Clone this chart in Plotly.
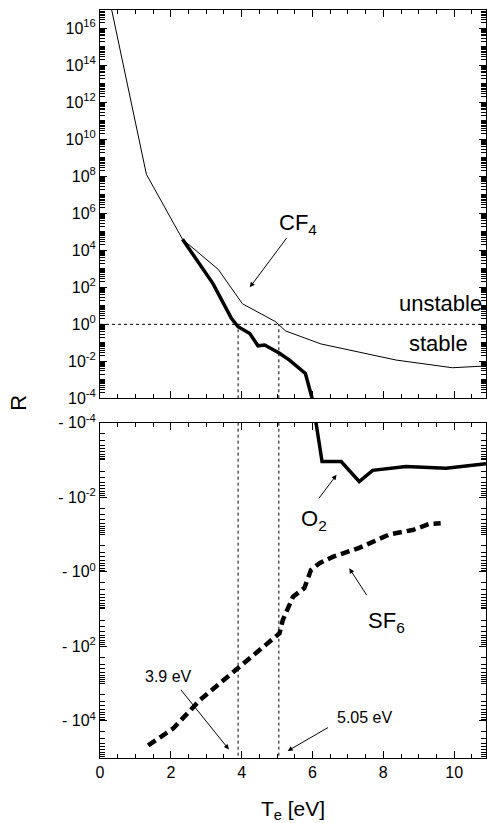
import plotly.graph_objects as go

# ---------------- data ----------------
# CF4 (thin solid line), R > 0
cf4_T = [0.33, 1.31, 2.33, 3.34, 4.02, 4.96, 5.24, 6.24, 8.36, 9.95, 10.9]
cf4_R = [1e17, 1.3e8, 4.0e4, 9.3e2, 1.3e1, 1.38, 0.44, 0.087, 0.0117, 0.0045, 0.0056]

# O2 (thick solid line), R changes sign near 6 eV
o2_T = [2.33, 2.82, 3.19, 3.71, 3.90, 4.23, 4.46, 4.65, 5.07, 5.35, 5.80, 5.99,
        6.10, 6.27, 6.81, 7.32, 7.70, 8.64, 9.77, 10.9]
o2_R = [4.0e4, 1.6e3, 1.6e2, 2.1, 0.74, 0.32, 0.069, 0.076, 0.027, 0.0117, 0.0022, 1e-4,
        -1e-4, -1.1e-3, -1.1e-3, -3.8e-3, -1.9e-3, -1.5e-3, -1.66e-3, -1.26e-3]

# SF6 (thick dashed line), R < 0
sf6_T = [1.36, 2.07, 2.82, 3.90, 5.07, 5.16, 5.45, 5.77, 5.96, 6.20, 6.57, 7.32, 8.17, 8.83, 9.30, 9.62]
sf6_R = [-4.6e4, -1.6e4, -2.8e3, -400, -45, -20, -4.7, -2.75, -0.89, -0.59, -0.4, -0.23,
         -0.1, -0.076, -0.052, -0.05]

# stability thresholds (eV) and boundary R
thresholds = [3.9, 5.05]
threshold_labels = ["3.9 eV", "5.05 eV"]
R_boundary = 1.0

# tick labels
top_exps = list(range(-4, 17, 2))
top_ticktext = ["10<sup>%d</sup>" % e for e in top_exps]
bot_exps = list(range(-4, 5, 2))
bot_ticktext = ["- 10<sup>%d</sup>" % e for e in bot_exps]
x_tickvals = [0, 2, 4, 6, 8, 10]
x_ticktext = ["0", "2", "4", "6", "8", "10"]

# ---------------- split by sign ----------------
def pos_part(T, R):
    return [t for t, r in zip(T, R) if r > 0], [r for r in R if r > 0]

def neg_part(T, R):
    return [t for t, r in zip(T, R) if r < 0], [-r for r in R if r < 0]

FONT = "Liberation Sans, Arial, sans-serif"
X_MAX = 10.9
fig = go.Figure()

cx, cy = pos_part(cf4_T, cf4_R)
fig.add_trace(go.Scatter(x=cx, y=cy, xaxis="x2", yaxis="y2", mode="lines",
                         line=dict(color="black", width=1), showlegend=False))
ox, oy = pos_part(o2_T, o2_R)
fig.add_trace(go.Scatter(x=ox, y=oy, xaxis="x2", yaxis="y2", mode="lines",
                         line=dict(color="black", width=3.5), showlegend=False))
onx, ony = neg_part(o2_T, o2_R)
fig.add_trace(go.Scatter(x=onx, y=ony, xaxis="x", yaxis="y", mode="lines",
                         line=dict(color="black", width=3.5), showlegend=False))
sx, sy = neg_part(sf6_T, sf6_R)
fig.add_trace(go.Scatter(x=sx, y=sy, xaxis="x", yaxis="y", mode="lines",
                         line=dict(color="black", width=4.5, dash="9px,5px"), showlegend=False))

# minor ticks: odd decades and 2..9 subdivisions
def minor_vals(lo, hi, labelled):
    v = []
    for e in range(lo, hi):
        for m in range(1, 10):
            if m == 1 and e in labelled:
                continue
            v.append(m * 10.0 ** e)
    return v

xcommon = dict(range=[0, X_MAX], showline=True, linecolor="black", linewidth=1, mirror="ticks",
               ticks="inside", ticklen=7, tickcolor="black", tickvals=x_tickvals,
               showgrid=False, zeroline=False, automargin=False,
               minor=dict(ticks="inside", ticklen=4, tickcolor="black", dtick=0.5, showgrid=False),
               tickfont=dict(family=FONT, size=16, color="black"))
ycommon = dict(type="log", showline=True, linecolor="black", linewidth=1, mirror="ticks",
               ticks="inside", ticklen=7, tickcolor="black", showgrid=False, zeroline=False,
               automargin=False,
               tickfont=dict(family=FONT, size=16, color="black"))

fig.update_layout(
    template="none",
    width=487, height=823,
    margin=dict(l=100, r=1, t=10, b=65, autoexpand=False),
    paper_bgcolor="white", plot_bgcolor="white",
    font=dict(family=FONT, color="black"),
    xaxis=dict(**xcommon, anchor="y", domain=[0, 1], ticktext=x_ticktext, showticklabels=True,
               title=dict(text="T<sub>e</sub> [eV]", font=dict(size=21), standoff=21)),
    xaxis2=dict(**xcommon, anchor="y2", domain=[0, 1], matches="x", showticklabels=False),
    yaxis=dict(**ycommon, anchor="x", domain=[0, 0.4483], range=[5, -4],
               tickvals=[10.0 ** e for e in bot_exps], ticktext=bot_ticktext,
               minor=dict(ticks="inside", ticklen=5, tickcolor="black",
                          tickvals=minor_vals(-4, 6, bot_exps))),
    yaxis2=dict(**ycommon, anchor="x2", domain=[0.4809, 1], range=[-4, 17],
                tickvals=[10.0 ** e for e in top_exps], ticktext=top_ticktext,
                minor=dict(ticks="inside", ticklen=5, tickcolor="black",
                           tickvals=minor_vals(-4, 18, top_exps))),
)

# reference lines (shape coordinates on log axes given as data values)
dotted = dict(color="black", width=1, dash="dot")
fig.add_shape(type="line", xref="x2", yref="y2", x0=0, x1=X_MAX, y0=R_boundary, y1=R_boundary, line=dotted)
for t in thresholds:
    fig.add_shape(type="line", xref="x2", yref="y2", x0=t, x1=t, y0=1e-4, y1=R_boundary, line=dotted)
    fig.add_shape(type="line", xref="x", yref="y", x0=t, x1=t, y0=1e-4, y1=1e5, line=dotted)

# text labels (annotation coordinates on log axes given as log10)
def txt(text, x, y, xr, yr, size, xanchor="center"):
    fig.add_annotation(text=text, x=x, y=y, xref=xr, yref=yr, showarrow=False,
                       font=dict(family=FONT, size=size, color="black"),
                       xanchor=xanchor, yanchor="middle")

def arrow(x0, y0, x1, y1, xr, yr):
    fig.add_annotation(text="", x=x1, y=y1, ax=x0, ay=y0, xref=xr, yref=yr, axref=xr, ayref=yr,
                       showarrow=True, arrowhead=2, arrowsize=1, arrowwidth=1, arrowcolor="black",
                       standoff=0)

txt("CF<sub>4</sub>", 5.6, 5.4, "x2", "y2", 22)
arrow(5.30, 4.74, 4.23, 2.0, "x2", "y2")
txt("unstable", 10.85, 1.13, "x2", "y2", 22, xanchor="right")
txt("stable", 9.56, -1.03, "x2", "y2", 22)

txt("O<sub>2</sub>", 6.05, -1.4, "x", "y", 22)
arrow(6.15, -1.93, 6.68, -2.6, "x", "y")
txt("SF<sub>6</sub>", 8.1, 1.35, "x", "y", 22)
arrow(7.56, 0.67, 7.04, -0.09, "x", "y")

txt(threshold_labels[0], 1.94, 2.82, "x", "y", 16)
arrow(2.25, 3.13, 3.64, 4.77, "x", "y")
txt(threshold_labels[1], 7.47, 3.9, "x", "y", 16)
arrow(6.48, 4.16, 5.30, 4.81, "x", "y")

# shared y-axis title
fig.add_annotation(text="R", xref="paper", yref="paper", x=-0.21, y=0.475,
                   xanchor="center", yanchor="middle", showarrow=False, textangle=-90,
                   font=dict(family=FONT, size=22, color="black"))

fig.write_html("out.html", config={"displayModeBar": False},
               post_script="document.body.style.margin='0';document.body.style.overflow='hidden';")
